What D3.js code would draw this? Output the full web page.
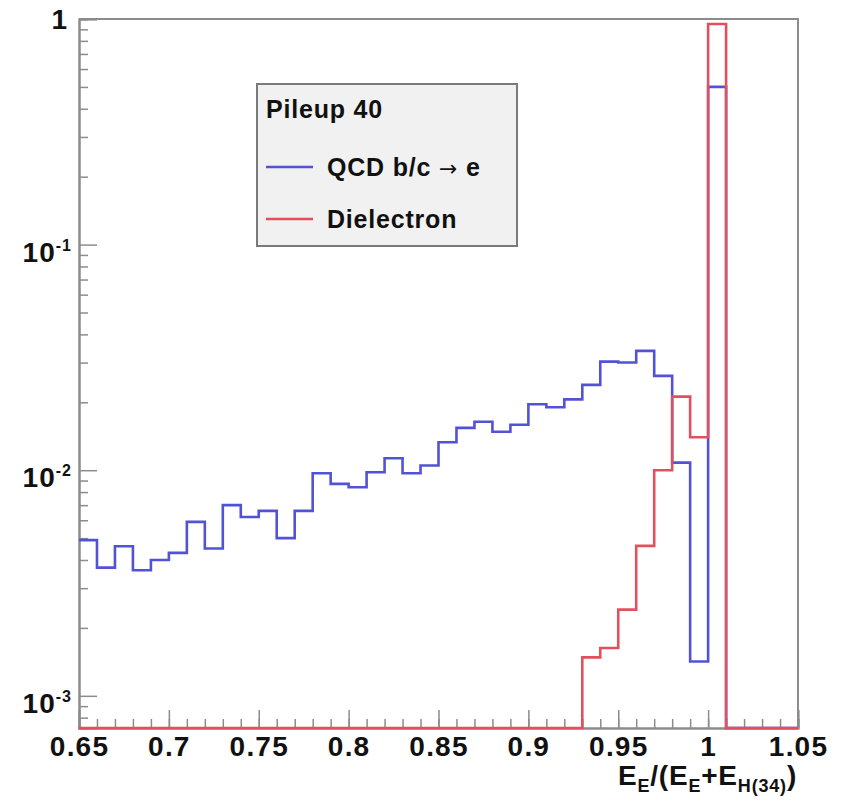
<!DOCTYPE html>
<html>
<head>
<meta charset="utf-8">
<script src="https://cdn.jsdelivr.net/npm/d3@7"></script>
<style>
  html, body { margin: 0; padding: 0; background: #ffffff; }
  svg { display: block; font-family: "Liberation Sans", Arial, Helvetica, sans-serif; font-weight: bold; }
</style>
</head>
<body>
<svg id="chart" width="848" height="805"></svg>
<script>
// ---- data ----
const binLowEdges = [0.65,0.66,0.67,0.68,0.69,0.70,0.71,0.72,0.73,0.74,
                     0.75,0.76,0.77,0.78,0.79,0.80,0.81,0.82,0.83,0.84,
                     0.85,0.86,0.87,0.88,0.89,0.90,0.91,0.92,0.93,0.94,
                     0.95,0.96,0.97,0.98,0.99,1.00,1.01,1.02,1.03,1.04];
const binWidth = 0.01;
const qcdValues = [0.0049,0.0037,0.0046,0.0036,0.0040,0.0043,0.0059,0.0045,0.0070,0.0062,
                   0.0066,0.0050,0.0066,0.0097,0.0087,0.0084,0.0098,0.0113,0.0097,0.0105,
                   0.0133,0.0154,0.0164,0.0148,0.0159,0.0196,0.0190,0.0206,0.0239,0.0303,
                   0.0300,0.0338,0.0262,0.0108,0.00142,0.50,0,0,0,0];
const dielectronValues = [0,0,0,0,0,0,0,0,0,0,
                          0,0,0,0,0,0,0,0,0,0,
                          0,0,0,0,0,0,0,0,0.00148,0.00163,
                          0.00241,0.00462,0.0100,0.0212,0.0140,0.95,0,0,0,0];
const xTickLabels = ["0.65","0.7","0.75","0.8","0.85","0.9","0.95","1","1.05"];
const xMajorTicks = [0.65,0.70,0.75,0.80,0.85,0.90,0.95,1.00,1.05];
const yMajorTicks = [1, 0.1, 0.01, 0.001];
const yTickExponents = ["0", "-1", "-2", "-3"];
const legendTitle = "Pileup 40";
const seriesNames = [["QCD b/c ", "\u2192", " e"], ["Dielectron"]];
const seriesColors = ["#5252d8", "#e2505e"];

// ---- layout ----
const L = 79, R = 798, T = 19, B = 728;
const xDomain = [0.65, 1.05];
const yDomain = [7.2e-4, 1];
const axisColor = "#8c8c8c";

const svg = d3.select("#chart");
const x = d3.scaleLinear().domain(xDomain).range([L, R]);
const y = d3.scaleLog().domain(yDomain).range([B, T]);

svg.append("defs").append("clipPath").attr("id", "plotclip")
  .append("rect").attr("x", L).attr("y", T - 2).attr("width", R - L).attr("height", B - T + 4);

// frame (top, right)
svg.append("path")
  .attr("d", `M${L},${T}H${R}V${B}`)
  .attr("fill", "none").attr("stroke", axisColor).attr("stroke-width", 2);

// histograms
function stepPoints(values) {
  const pts = [];
  values.forEach((v, i) => {
    pts.push({x: binLowEdges[i], v: v});
    pts.push({x: binLowEdges[i] + binWidth, v: v});
  });
  return pts;
}
const line = d3.line()
  .x(d => x(d.x))
  .y(d => y(Math.max(d.v, yDomain[0])));

const plot = svg.append("g").attr("clip-path", "url(#plotclip)");
[qcdValues, dielectronValues].forEach((vals, i) => {
  plot.append("path")
    .attr("d", line(stepPoints(vals)))
    .attr("fill", "none")
    .attr("stroke", seriesColors[i])
    .attr("stroke-width", 2.6)
    .attr("stroke-linejoin", "miter");
});

// y axis
const yMinor = [];
for (let e = -4; e <= 0; e++) {
  for (let m = 2; m <= 9; m++) {
    const v = m * Math.pow(10, e);
    if (v >= yDomain[0] && v <= yDomain[1]) yMinor.push(v);
  }
}
const yAxisMinor = svg.append("g").attr("transform", `translate(${L},0)`)
  .call(d3.axisLeft(y).tickValues(yMinor).tickSize(-9).tickFormat(""));
const yAxisMajor = svg.append("g").attr("transform", `translate(${L},0)`)
  .call(d3.axisLeft(y).tickValues(yMajorTicks).tickSize(-18).tickFormat(""));
[yAxisMinor, yAxisMajor].forEach(g => {
  g.selectAll("path").attr("stroke", axisColor).attr("stroke-width", 2);
  g.selectAll("line").attr("stroke", axisColor).attr("stroke-width", 1.5);
});
// y labels
yMajorTicks.forEach((v, i) => {
  const yy = y(v);
  if (v === 1) {
    svg.append("text").attr("x", 67).attr("y", yy + 10)
      .attr("text-anchor", "end").attr("font-size", 28).attr("fill", "#111")
      .text("1");
  } else {
    const t = svg.append("text").attr("x", 72).attr("y", yy + 17)
      .attr("text-anchor", "end").attr("font-size", 28).attr("fill", "#111")
      .attr("letter-spacing", 1);
    t.append("tspan").text("10");
    t.append("tspan").attr("font-size", 16).attr("dy", -11).text(yTickExponents[i]);
  }
});

// x axis
const xMinor = d3.range(0, 41).map(i => 0.65 + i * 0.01);
const xAxisMinor = svg.append("g").attr("transform", `translate(0,${B})`)
  .call(d3.axisBottom(x).tickValues(xMinor).tickSize(-9).tickFormat(""));
const xAxisMajor = svg.append("g").attr("transform", `translate(0,${B})`)
  .call(d3.axisBottom(x).tickValues(xMajorTicks).tickSize(-18)
    .tickFormat((d, i) => xTickLabels[i]).tickPadding(28));
[xAxisMinor, xAxisMajor].forEach(g => {
  g.selectAll("path").attr("stroke", axisColor).attr("stroke-width", 2);
  g.selectAll("line").attr("stroke", axisColor).attr("stroke-width", 1.5);
});
xAxisMajor.selectAll("text")
  .attr("font-size", 28).attr("font-family", "Liberation Sans, Arial, sans-serif")
  .attr("font-weight", "bold").attr("fill", "#111").attr("dy", null).attr("y", 28)
  .attr("letter-spacing", 1.2);

// zero-bins run along the frame bottom, drawn over the axis line
plot.raise();

// x title
const xt = svg.append("text").attr("x", 797).attr("y", 785)
  .attr("text-anchor", "end").attr("font-size", 28).attr("fill", "#111")
  .attr("letter-spacing", 0.8);
xt.append("tspan").text("E");
xt.append("tspan").attr("font-size", 18).attr("dy", 7).text("E");
xt.append("tspan").attr("dy", -7).text("/(E");
xt.append("tspan").attr("font-size", 18).attr("dy", 7).text("E");
xt.append("tspan").attr("dy", -7).text("+E");
xt.append("tspan").attr("font-size", 18).attr("dy", 7).text("H(34)");
xt.append("tspan").attr("dy", -7).text(")");

// legend
const lg = svg.append("g");
lg.append("rect").attr("x", 257).attr("y", 84).attr("width", 260).attr("height", 162)
  .attr("fill", "#f1f1f1").attr("stroke", "#7a7a7a").attr("stroke-width", 2);
lg.append("text").attr("x", 266).attr("y", 118).attr("font-size", 25).attr("fill", "#111")
  .attr("letter-spacing", 0.8).text(legendTitle);
const legendRows = [167, 219];
seriesNames.forEach((parts, i) => {
  lg.append("line").attr("x1", 266).attr("x2", 313)
    .attr("y1", legendRows[i]).attr("y2", legendRows[i])
    .attr("stroke", seriesColors[i]).attr("stroke-width", 2.6);
  const t = lg.append("text").attr("x", 327).attr("y", legendRows[i] + 9)
    .attr("font-size", 25).attr("fill", "#111").attr("letter-spacing", 0.8);
  parts.forEach(p => {
    const s = t.append("tspan").text(p);
    if (p === "\u2192") s.attr("font-family", "DejaVu Sans").attr("font-weight", "normal").attr("font-size", 22);
  });
});
</script>
</body>
</html>
